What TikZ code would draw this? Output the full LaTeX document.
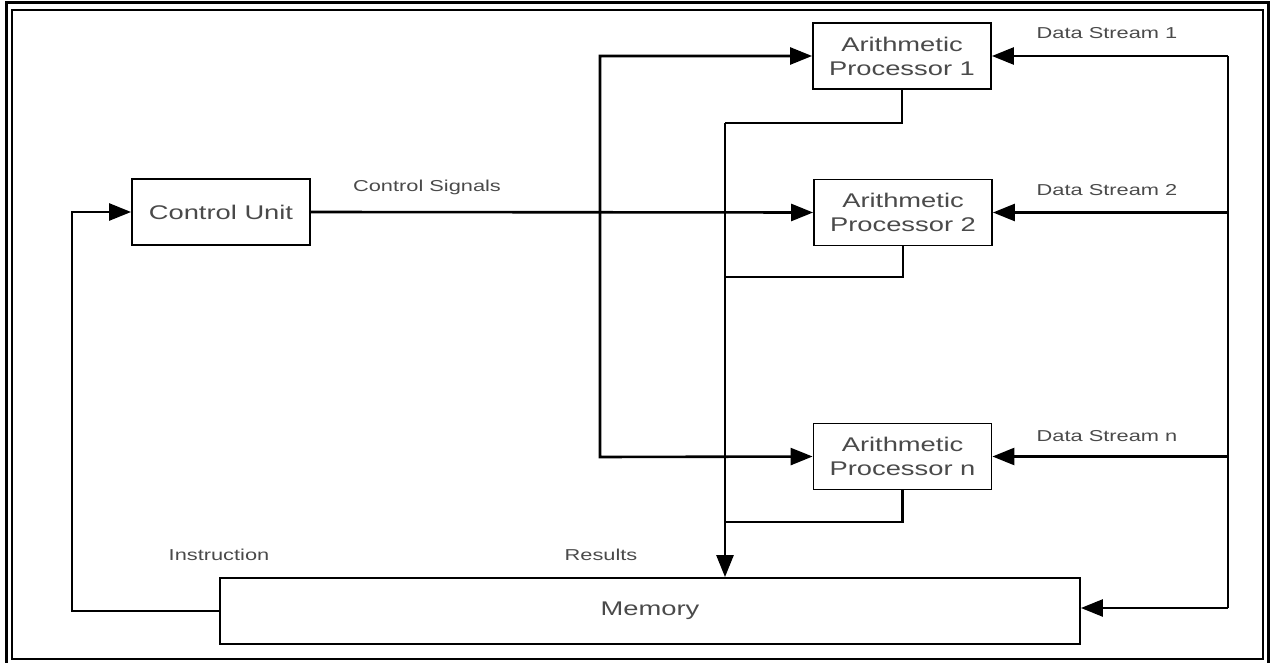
\documentclass[tikz,border=0pt]{standalone}
\usepackage{fontspec}
\setmainfont{Liberation Sans}
\newfontfamily\diagfont[FakeStretch=1.38]{Liberation Sans}
\usetikzlibrary{arrows.meta}
\definecolor{txt}{HTML}{4A4A4A}
\tikzset{
  unit/.style={draw=black, line width=1.8pt, fill=white, minimum width=178pt,
    minimum height=66pt, inner sep=0pt, align=center, text=txt,
    font=\diagfont\fontsize{19.8}{24}\selectfont},
  lbl/.style={text=txt, inner sep=0pt, font=\diagfont\fontsize{15.8}{18}\selectfont},
  wire/.style={line width=2.6pt, line join=miter},
  arr/.style={wire, -{Triangle[length=22pt,width=17pt]}},
  arrs/.style={wire, {Triangle[length=22pt,width=17pt]}-{Triangle[length=22pt,width=17pt]}},
}
\begin{document}
\begin{tikzpicture}[x=1pt,y=-1pt]
\useasboundingbox (0,0) rectangle (1275,663);
% double frame
\draw[line width=3pt] (6,664) -- (6,3) -- (1268.5,3) -- (1268.5,664);
\draw[line width=2pt] (12,10) rectangle (1263,659);

% blocks
\node[unit] (cu) at (221,212) {Control Unit};
\node[unit] (ap1) at (902,56) {Arithmetic\\Processor 1};
\node[unit] (ap2) at (903,212.5) {Arithmetic\\Processor 2};
\node[unit] (apn) at (902.5,456.5) {Arithmetic\\Processor n};
\node[unit, minimum width=860pt] (mem) at (650,611) {Memory};

% junction points
\coordinate (lft) at (72,611);
\coordinate (bt) at (600,56);
\coordinate (bb) at (600,457);
\coordinate (r1) at (725,123);
\coordinate (r2) at (725,277);
\coordinate (r3) at (725,522);
\coordinate (ds1) at (1228,56);
\coordinate (ds2) at (1228,212.5);
\coordinate (dsn) at (1228,456.5);
\coordinate (dsm) at (1228,608);

% instruction feedback
\draw[arr] (mem.west) -- (lft) |- (cu.west);
% control signals
\draw[arr] (cu.east) -- (ap2.west);
\draw[arrs] (ap1.west) -- (bt) -- (bb) -- (apn.west);
% results bus
\draw[wire] (ap1.south) |- (r1);
\draw[wire] (ap2.south) |- (r2);
\draw[wire] (apn.south) |- (r3);
\draw[arr] (r1) -- (r1 |- mem.north);
% data streams
\draw[wire] (ds1) -- (dsm);
\draw[arr] (ds1) -- (ap1.east);
\draw[arr] (ds2) -- (ap2.east);
\draw[arr] (dsn) -- (apn.east);
\draw[arr] (dsm) -- (dsm -| mem.east);

% labels
\node[lbl] (lds1) at (1107,33) {Data Stream 1};
\node[lbl] (lds2) at (1107,190) {Data Stream 2};
\node[lbl] (ldsn) at (1107,436) {Data Stream n};
\node[lbl] (lcs) at (427,187) {Control Signals};
\node[lbl] (lin) at (219,555) {Instruction};
\node[lbl] (lres) at (601,555) {Results};
\end{tikzpicture}
\end{document}
